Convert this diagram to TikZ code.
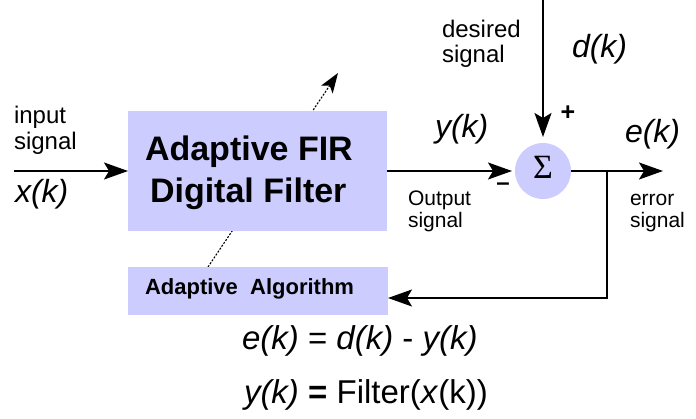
\documentclass[tikz,border=0pt]{standalone}
\usepackage{fontspec}
\setmainfont{Liberation Sans}
\newfontfamily\serifgreek{Liberation Serif}
\usetikzlibrary{arrows.meta}
\definecolor{lav}{RGB}{204,204,255}
\tikzset{
  every node/.style={inner sep=0pt, outer sep=0pt},
  lbl/.style={font=\fontsize{24}{24}\selectfont, anchor=base west},
  slbl/.style={font=\fontsize{21}{21}\selectfont, anchor=base west},
  sig/.style={font=\fontsize{32}{32}\selectfont\itshape, anchor=base west},
  eqn/.style={font=\fontsize{33}{33}\selectfont, anchor=base west},
  blk/.style={fill=lav, draw=none},
  wire/.style={line width=1.7pt},
  arr/.style={wire, -{Stealth[length=24pt,width=17pt,inset=5pt]}},
  adarr/.style={line width=1.1pt, dash pattern=on 2pt off 1.5pt, -{Stealth[length=20pt,width=14pt,inset=5pt]}},
}
\begin{document}
\begin{tikzpicture}[x=1pt,y=-1pt]
\useasboundingbox (0,0) rectangle (696,419);
% adaptation arrow (behind the boxes)
\coordinate (adS) at (208,267);
\coordinate (adE) at (338,73);
\draw[adarr] (adS) -- (adE);
% blocks
\node[blk, anchor=north west, minimum width=259pt, minimum height=120pt] (filt) at (128,111) {};
\node[blk, anchor=north west, minimum width=260pt, minimum height=48pt] (alg) at (128,267) {};
\node[circle, blk, minimum size=56pt] (sum) at (543,171) {};
\node[font=\serifgreek\fontsize{34}{34}\selectfont] (sigma) at (543,167) {Σ};
% block texts
\node[font=\fontsize{34}{34}\selectfont\bfseries, anchor=base west] (f1) at (145,161) {Adaptive FIR};
\node[font=\fontsize{34}{34}\selectfont\bfseries, anchor=base west] (f2) at (150,203) {Digital Filter};
\node[font=\fontsize{22}{22}\selectfont\bfseries, anchor=base west] (a1) at (145,295) {Adaptive\ \ Algorithm};
% wires
\coordinate (xin) at (14,171);
\draw[arr] (xin) -- (filt.west);
\draw[arr, shorten >=3pt] (filt.east) -- (sum.west);
\coordinate (dtop) at (543,0);
\draw[arr, shorten >=6pt] (dtop) -- (sum.north);
\coordinate (eout) at (663,171);
\draw[arr] (sum.east) -- (eout);
\coordinate (junc) at (607,171);
\coordinate (fbc) at (607,298);
\draw[arr] (junc) -- (fbc) -- (fbc -| alg.east);
% labels
\node[lbl] (in1) at (14,124) {input};
\node[lbl] (in2) at (14,150) {signal};
\node[sig] (xk) at (15,203) {x(k)};
\node[sig] (yk) at (435,138) {y(k)};
\node[sig] (ek) at (625,143) {e(k)};
\node[sig] (dk) at (572,58) {d(k)};
\node[lbl] (ds1) at (442,38) {desired};
\node[lbl] (ds2) at (442,63) {signal};
\node[slbl] (os1) at (408,206) {Output};
\node[slbl] (os2) at (408,228) {signal};
\node[slbl] (es1) at (630,206) {error};
\node[slbl] (es2) at (630,228) {signal};
\node[font=\fontsize{25}{25}\selectfont\bfseries] (plus) at (568,113) {+};
\node[font=\fontsize{24}{24}\selectfont\bfseries] (minus) at (503,187) {–};
% equations
\node[eqn] (eq1) at (242,350) {\textit{e(k)} = \textit{d(k)} - \textit{y(k)}};
\node[eqn] (eq2) at (244,403) {\textit{y(k)} \textbf{=} Filter(\textit{x}(k))};
\end{tikzpicture}
\end{document}
